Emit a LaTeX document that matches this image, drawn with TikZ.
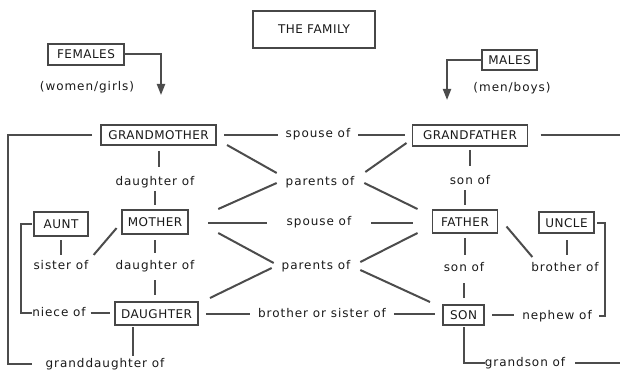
\documentclass[tikz,border=0pt]{standalone}
\usepackage{fontspec}
\setmainfont{DejaVu Sans}
\newfontfamily\famcaps[LetterSpace=4]{DejaVu Sans}
\newfontfamily\famtext[LetterSpace=8]{DejaVu Sans}
\usetikzlibrary{arrows.meta,calc}

\begin{document}
\begin{tikzpicture}[x=1pt,y=-1pt,
  box/.style={draw=black!72, line width=1.8pt, text=black!90, font=\famcaps\fontsize{12}{14}\selectfont, inner xsep=6pt, inner ysep=3pt, text height=9pt, text depth=0pt, minimum height=22pt, outer sep=0pt},
  lbl/.style={text=black!90, font=\famtext\fontsize{12}{14}\selectfont, inner sep=0pt, text height=8pt, text depth=2pt, outer sep=0pt},
  link/.style={draw=black!70, line width=2pt},
  gap/.style={shorten <=#1, shorten >=#1}, gap/.default=8pt,
  arrowdown/.style={-{Triangle[width=8pt,length=11pt]}}]
\useasboundingbox (0,0) rectangle (620,371);
\node[box, minimum width=122pt, minimum height=37pt] (fam) at (314,29.5) {THE FAMILY};
\node[box, minimum width=76pt, minimum height=21pt] (fe) at (86,54.5) {FEMALES};
\node[lbl] (wg) at (87,88) {(women/girls)};
\node[box, minimum width=55pt, minimum height=20pt] (ma) at (509.5,60) {MALES};
\node[lbl] (mb) at (512,89) {(men/boys)};
\coordinate (fin) at (161,95);
\coordinate (min) at (447,100);
\coordinate (brL) at (8,0);
\coordinate (brA) at (21,0);
\coordinate (brU) at (605,0);
\coordinate (edgeR) at (620,0);

\node[box, minimum width=115pt, minimum height=20pt] (gm) at (158.5,135) {GRANDMOTHER};
\node[box, minimum width=115pt, minimum height=21pt] (gf) at (470,135.5) {GRANDFATHER};
\node[lbl] (sp1) at (318,135) {spouse of};
\node[lbl] (d1) at (155,183) {daughter of};
\node[lbl] (p1) at (320,183) {parents of};
\node[lbl] (s1) at (470,182) {son of};
\node[box, minimum width=54pt, minimum height=24pt] (au) at (61,224) {AUNT};
\node[box, minimum width=64pt, minimum height=24pt] (mo) at (155,222) {MOTHER};
\node[lbl] (sp2) at (319,222.5) {spouse of};
\node[box, minimum width=65pt, minimum height=23pt] (fa) at (465,221.5) {FATHER};
\node[box, minimum width=55pt, minimum height=21pt] (un) at (566.5,222.5) {UNCLE};
\node[lbl] (si) at (61,266) {sister of};
\node[lbl] (d2) at (155,266) {daughter of};
\node[lbl] (p2) at (316,266) {parents of};
\node[lbl] (s2) at (464,268) {son of};
\node[lbl] (bro) at (565,268) {brother of};
\node[lbl] (ni) at (59,313) {niece of};
\node[box, minimum width=79pt, minimum height=23pt] (da) at (156.5,313.5) {DAUGHTER};
\node[lbl] (bos) at (322,314) {brother or sister of};
\node[box, minimum width=41pt, minimum height=20pt] (so) at (463.5,315) {SON};
\node[lbl] (ne) at (557,316) {nephew of};
\node[lbl] (gd) at (105,364) {granddaughter of};
\node[lbl] (gs) at (525,363) {grandson of};

\draw[link,arrowdown] (fe.east) -| (fin);
\draw[link,arrowdown] (ma.west) -| (min);
\draw[link,gap] (gm.east) -- (gm.east -| sp1.west);
\draw[link,gap] (sp1.east) -- (sp1.east -| gf.west);
\draw[link,shorten <=13pt] (gf.east) -- (gf.east -| edgeR);
\draw[link,shorten <=9pt,shorten >=14pt] (gm.west) -- (gm.west -| brL) |- (gd.west);
\draw[link,shorten <=6pt,shorten >=11pt] (gm.south) -- (gm.south |- d1.north);
\draw[link,shorten <=3pt,shorten >=5pt] (d1.south) -- (d1.south |- mo.north);
\draw[link] ($(gm.south east)+(11,0)$) -- ($(p1.north west)+(-9,-5)$);
\draw[link] ($(p1.north east)+(11,-6)$) -- ($(gf.south west)+(-6,-3)$);
\draw[link] ($(p1.west)+(-9,0)$) -- ($(mo.north east)+(30,-1)$);
\draw[link] ($(p1.east)+(10,0)$) -- ($(fa.north west)+(-15,-1)$);
\draw[link,shorten <=4pt,shorten >=11pt] (gf) -- (s1);
\draw[link,shorten <=5pt,shorten >=3pt] (fa.north) -- (fa.north |- s1.south);
\draw[link,shorten <=4pt,shorten >=6pt] (au) -- (si);
\draw[link,gap] (mo.west) -- (si.north east);
\draw[link,shorten <=2pt] (au.west) -- (au.west -| brA) |- (ni.west);
\draw[link,gap=5pt] (ni.east) -- (ni.east -| da.west);
\draw[link,gap=20pt] (sp2.west -| mo.east) -- (sp2.west);
\draw[link,gap=20pt] (sp2.east) -- (sp2.east -| fa.west);
\draw[link,shorten <=6pt,shorten >=8pt] (mo) -- (d2);
\draw[link,shorten <=9pt,shorten >=7pt] (d2.south) -- (d2.south |- da.north);
\draw[link] ($(mo.south east)+(30,-1)$) -- ($(p2.west)+(-8,-3)$);
\draw[link] ($(p2.west)+(-10,2)$) -- ($(da.north east)+(12,-4)$);
\draw[link] ($(p2.east)+(10,-4)$) -- ($(fa.south west)+(-15,0)$);
\draw[link] ($(p2.east)+(10,4)$) -- ($(so.north west)+(-13,-3)$);
\draw[link,shorten <=5pt,shorten >=8pt] (fa.south) -- (fa.south |- s2.north);
\draw[link,shorten <=7pt,shorten >=10pt] (so.north) -- (so.north |- s2.south);
\draw[link] ($(fa.east)+(9,5)$) -- ($(bro.north west)+(1,-6)$);
\draw[link,shorten <=7pt,shorten >=8pt] (un.south) -- (un.south |- bro.north);
\draw[link,shorten <=3pt,shorten >=7pt] (un.east) -- (un.east -| brU) |- (ne.east);
\draw[link,gap] (so.east) -- (so.east -| ne.west);
\draw[link,gap] (da.east) -- (da.east -| bos.west);
\draw[link,gap] (bos.east) -- (bos.east -| so.west);
\coordinate (dtail) at ($(da.south west)+(18,0)$);
\draw[link,shorten <=2pt,shorten >=3pt] (dtail) -- (dtail |- gd.north);
\draw[link,shorten <=2pt] (so.south) |- (gs.west);
\draw[link,shorten <=10pt] (gs.east) -- (gs.east -| edgeR);
\end{tikzpicture}
\end{document}
